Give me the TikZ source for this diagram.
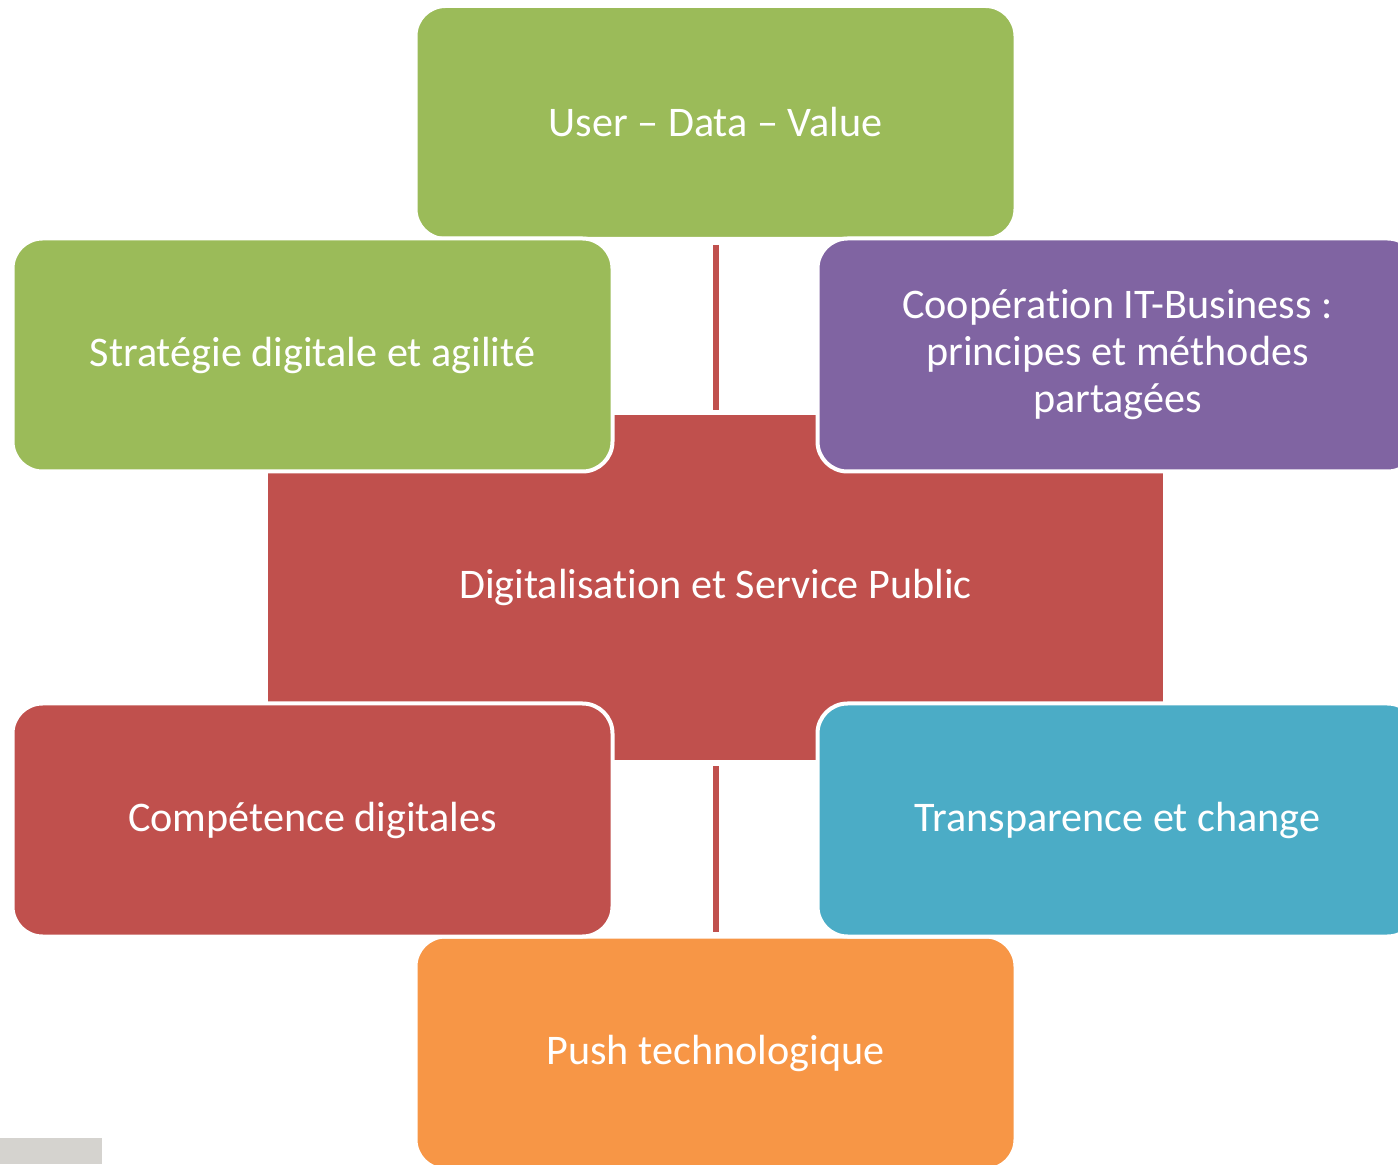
\documentclass[tikz,border=0pt]{standalone}
\usepackage{fontspec}
\setmainfont{Carlito}[Ligatures=NoCommon]
\usepackage{tikz}
\usetikzlibrary{positioning}
\definecolor{vert}{HTML}{9BBB59}
\definecolor{rouge}{HTML}{C0504D}
\definecolor{violet}{HTML}{8064A2}
\definecolor{cyan}{HTML}{4BACC6}
\definecolor{orange}{HTML}{F79646}
\definecolor{gris}{HTML}{D5D3CF}
\tikzset{
    bloc/.style={rectangle, rounded corners=0.6cm, draw=white, line width=0.08cm,
        minimum width=12cm, minimum height=4.66cm, text=white, align=center,
        font=\fontsize{24}{26.7}\selectfont},
    lien/.style={draw=rouge, line width=0.12cm, shorten <=0.08cm, shorten >=0.06cm}
}

\begin{document}
\begin{tikzpicture}
\useasboundingbox (0,0) rectangle (27.96,23.28);
\fill[gris] (0,0) rectangle (2.04,0.52);

\node[bloc, fill=rouge, rounded corners=0pt, draw=none, minimum width=17.9cm,
    minimum height=6.9cm] (centre) at (14.31,11.53) {Digitalisation et Service Public};
\node[bloc, fill=vert] (user) at (14.31,20.83) {User -- Data -- Value};
\node[bloc, fill=orange] (push) at (14.31,2.22) {Push technologique};

\draw[lien] (user) -- (centre);
\draw[lien] (centre) -- (push);

\node[bloc, fill=vert] (strategie) at (6.25,16.18) {Stratégie digitale et agilité};
\node[bloc, fill=violet] (cooperation) at (22.35,16.18)
    {Coopération IT-Business :\\principes et méthodes\\partagées};
\node[bloc, fill=rouge] (competence) at (6.25,6.88) {Compétence digitales};
\node[bloc, fill=cyan] (transparence) at (22.35,6.88) {Transparence et change};
\end{tikzpicture}
\end{document}
